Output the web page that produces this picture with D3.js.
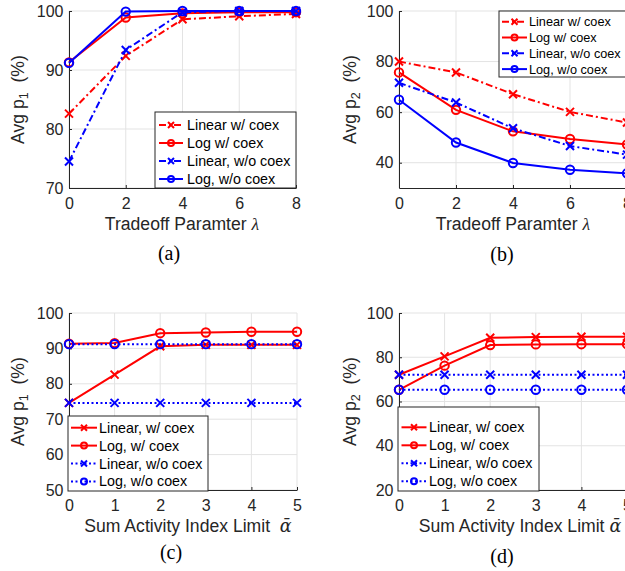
<!DOCTYPE html>
<html>
<head>
<meta charset="utf-8">
<script src="https://cdn.jsdelivr.net/npm/d3@7"></script>
<style>
  body { margin: 0; background: #fff; }
  svg { display: block; }
</style>
</head>
<body>
<svg width="625" height="571"></svg>
<script>
// x values
const lambdaX = [0, 2, 4, 6, 8];
const alphaX = [0, 1, 2, 3, 4, 5];

// (a) Avg p1 vs tradeoff parameter
const aLinCoex = [82.6, 92.4, 98.6, 99.1, 99.5];
const aLogCoex = [91.3, 98.9, 99.6, 99.8, 99.8];
const aLinNo = [74.5, 93.4, 99.8, 100, 100];
const aLogNo = [91.2, 99.9, 100, 100, 100];

// (b) Avg p2 vs tradeoff parameter
const bLinCoex = [80.0, 75.7, 67.1, 60.1, 55.9];
const bLogCoex = [75.7, 60.9, 52.4, 49.4, 47.2];
const bLinNo = [71.6, 63.8, 53.6, 46.6, 43.2];
const bLogNo = [64.9, 48.0, 39.9, 37.2, 35.8];

// (c) Avg p1 vs sum activity index limit
const cLinCoex = [74.6, 82.6, 90.6, 91.0, 91.0, 91.0];
const cLogCoex = [91.3, 91.5, 94.3, 94.5, 94.7, 94.7];
const cLinNo = [74.6, 74.6, 74.6, 74.6, 74.6, 74.6];
const cLogNo = [91.2, 91.2, 91.2, 91.2, 91.2, 91.2];

// (d) Avg p2 vs sum activity index limit
const dLinCoex = [72.1, 80.4, 88.8, 89.1, 89.3, 89.3];
const dLogCoex = [65.3, 76.2, 85.5, 85.8, 85.9, 85.9];
const dLinNo = [72.1, 72.1, 72.1, 72.1, 72.1, 72.1];
const dLogNo = [65.3, 65.3, 65.3, 65.3, 65.3, 65.3];

// tick labels
const aYTicks = [70, 80, 90, 100];
const bYTicks = [40, 60, 80, 100];
const cYTicks = [50, 60, 70, 80, 90, 100];
const dYTicks = [20, 40, 60, 80, 100];

const namesTop = ["Linear w/ coex", "Log w/ coex", "Linear, w/o coex", "Log, w/o coex"];
const namesBottom = ["Linear, w/ coex", "Log, w/ coex", "Linear, w/o coex", "Log, w/o coex"];

const RED = "#ff0000", BLUE = "#0000ff", INK = "#262626";
const SANS = "'Liberation Sans', Arial, Helvetica, sans-serif";
const SERIF = "'Liberation Serif', 'Times New Roman', serif";
const DASHDOT = "7,3,2,3";
const DOTTED = "2,2.5";

const svg = d3.select("svg");

function marker(g, type, cx, cy, s, color) {
  if (type === "x") {
    g.append("path")
      .attr("d", `M${cx - s},${cy - s}L${cx + s},${cy + s}M${cx - s},${cy + s}L${cx + s},${cy - s}`)
      .attr("stroke", color).attr("stroke-width", 2).attr("fill", "none");
  } else {
    g.append("circle").attr("cx", cx).attr("cy", cy).attr("r", s)
      .attr("stroke", color).attr("stroke-width", 2).attr("fill", "none");
  }
}

function drawPanel(p) {
  const g = svg.append("g");
  const x = d3.scaleLinear().domain(p.xDomain).range([p.left, p.left + p.w]);
  const y = d3.scaleLinear().domain(p.yDomain).range([p.top + p.h, p.top]);

  // grid
  g.append("g").selectAll("line").data(p.xTicks).join("line")
    .attr("x1", d => x(d)).attr("x2", d => x(d))
    .attr("y1", p.top).attr("y2", p.top + p.h)
    .attr("stroke", "#e3e3e3");
  g.append("g").selectAll("line").data(p.yTicks).join("line")
    .attr("x1", p.left).attr("x2", p.left + p.w)
    .attr("y1", d => y(d)).attr("y2", d => y(d))
    .attr("stroke", "#e3e3e3");

  // axes
  const ax = g.append("g")
    .attr("transform", `translate(0,${p.top + p.h})`)
    .call(d3.axisBottom(x).tickValues(p.xTicks).tickFormat(d3.format("d"))
      .tickSizeInner(-3).tickSizeOuter(0).tickPadding(9.6));
  const ay = g.append("g")
    .attr("transform", `translate(${p.left},0)`)
    .call(d3.axisLeft(y).tickValues(p.yTicks).tickFormat(d3.format("d"))
      .tickSizeInner(-3).tickSizeOuter(0).tickPadding(5.5));
  [ax, ay].forEach(a => {
    a.attr("font-size", 16).attr("font-family", SANS).attr("color", INK);
    a.selectAll("text").attr("fill", INK);
  });

  // series
  const line = d3.line().x(d => x(d[0])).y(d => y(d[1]));
  p.series.forEach(s => {
    const pts = p.xVals.map((xv, i) => [xv, s.values[i]]);
    g.append("path").datum(pts)
      .attr("d", line).attr("fill", "none")
      .attr("stroke", s.color).attr("stroke-width", 2)
      .attr("stroke-dasharray", s.dash || null);
    pts.forEach(d => marker(g, s.marker, x(d[0]), y(d[1]), s.marker === "x" ? 4 : 4.2, s.color));
  });

  // y label
  const yl = g.append("text")
    .attr("transform", `translate(${p.yLabelX},${p.top + p.h / 2}) rotate(-90)`)
    .attr("text-anchor", "middle").attr("font-family", SANS)
    .attr("font-size", 17.6).attr("fill", INK);
  yl.append("tspan").text("Avg p");
  yl.append("tspan").attr("font-size", 12.5).attr("dy", 4).text(p.ySub);
  yl.append("tspan").attr("dy", -4).text("\u00a0 (%)");

  // x label
  const xl = g.append("text")
    .attr("x", p.xLabelX).attr("y", p.xLabelY)
    .attr("text-anchor", "middle").attr("font-family", SANS)
    .attr("font-size", 17.6).attr("fill", INK);
  xl.append("tspan").text(p.xLabel);
  xl.append("tspan").attr("font-family", p.symFont).attr("font-style", "italic").text(p.xSym);

  // caption
  g.append("text")
    .attr("x", p.capX).attr("y", p.capY)
    .attr("text-anchor", "middle").attr("font-family", SERIF)
    .attr("font-size", 20).attr("fill", "#000")
    .text(p.caption);

  // legend
  const L = p.legend;
  const lg = g.append("g");
  lg.append("rect")
    .attr("x", L.x).attr("y", L.y).attr("width", L.w).attr("height", L.h)
    .attr("fill", "#fff").attr("stroke", INK).attr("stroke-width", 1);
  p.series.forEach((s, i) => {
    const cy = L.y + L.first + i * L.step;
    lg.append("line")
      .attr("x1", L.x + L.s0).attr("x2", L.x + L.s1)
      .attr("y1", cy).attr("y2", cy)
      .attr("stroke", s.color).attr("stroke-width", 2)
      .attr("stroke-dasharray", s.dash || null);
    marker(lg, s.marker, L.x + (L.s0 + L.s1) / 2, cy, 3, s.color);
    lg.append("text")
      .attr("x", L.x + L.tx).attr("y", cy).attr("dy", "0.35em")
      .attr("font-family", SANS).attr("font-size", L.fs).attr("fill", "#000")
      .text(p.names[i]);
  });
}

function mkSeries(v, dashLin, dashLog) {
  return [
    { values: v[0], color: RED, marker: "x", dash: dashLin },
    { values: v[1], color: RED, marker: "o", dash: null },
    { values: v[2], color: BLUE, marker: "x", dash: dashLin || dashLog },
    { values: v[3], color: BLUE, marker: "o", dash: dashLog }
  ];
}

drawPanel({
  left: 69, top: 11, w: 227, h: 177,
  xDomain: [0, 8], yDomain: [70, 100], xTicks: lambdaX, yTicks: aYTicks, xVals: lambdaX,
  series: mkSeries([aLinCoex, aLogCoex, aLinNo, aLogNo], DASHDOT, null),
  names: namesTop, ySub: "1", yLabelX: 24,
  xLabel: "Tradeoff Paramter ", xSym: "\u03bb", symFont: SERIF, xLabelX: 182, xLabelY: 230,
  caption: "(a)", capX: 169, capY: 260,
  legend: { x: 155, y: 112, w: 141, h: 76, first: 13, step: 18, s0: 4, s1: 28, tx: 32, fs: 14.3 }
});

drawPanel({
  left: 399, top: 11, w: 228, h: 177,
  xDomain: [0, 8], yDomain: [30, 100], xTicks: lambdaX, yTicks: bYTicks, xVals: lambdaX,
  series: mkSeries([bLinCoex, bLogCoex, bLinNo, bLogNo], DASHDOT, null),
  names: namesTop, ySub: "2", yLabelX: 356,
  xLabel: "Tradeoff Paramter ", xSym: "\u03bb", symFont: SERIF, xLabelX: 513, xLabelY: 230,
  caption: "(b)", capX: 502, capY: 261,
  legend: { x: 499, y: 11, w: 128, h: 66, first: 10.7, step: 15.8, s0: 3, s1: 28, tx: 30, fs: 12.7 }
});

drawPanel({
  left: 69, top: 313, w: 228, h: 177,
  xDomain: [0, 5], yDomain: [50, 100], xTicks: alphaX, yTicks: cYTicks, xVals: alphaX,
  series: mkSeries([cLinCoex, cLogCoex, cLinNo, cLogNo], null, DOTTED),
  names: namesBottom, ySub: "1", yLabelX: 24,
  xLabel: "Sum Activity Index Limit \u00a0", xSym: "\u1fb1", symFont: "'DejaVu Serif', serif", xLabelX: 188, xLabelY: 532,
  caption: "(c)", capX: 171, capY: 559,
  legend: { x: 68, y: 416, w: 140, h: 75, first: 11.7, step: 17.9, s0: 3, s1: 29, tx: 31, fs: 14.3 }
});

drawPanel({
  left: 399, top: 313, w: 228, h: 177,
  xDomain: [0, 5], yDomain: [20, 100], xTicks: alphaX, yTicks: dYTicks, xVals: alphaX,
  series: mkSeries([dLinCoex, dLogCoex, dLinNo, dLogNo], null, DOTTED),
  names: namesBottom, ySub: "2", yLabelX: 356,
  xLabel: "Sum Activity Index Limit ", xSym: "\u1fb1", symFont: "'DejaVu Serif', serif", xLabelX: 520, xLabelY: 532,
  caption: "(d)", capX: 502, capY: 563,
  legend: { x: 398, y: 407, w: 141, h: 84, first: 20.3, step: 18, s0: 3.5, s1: 28.5, tx: 31, fs: 14.3 }
});
</script>
</body>
</html>
